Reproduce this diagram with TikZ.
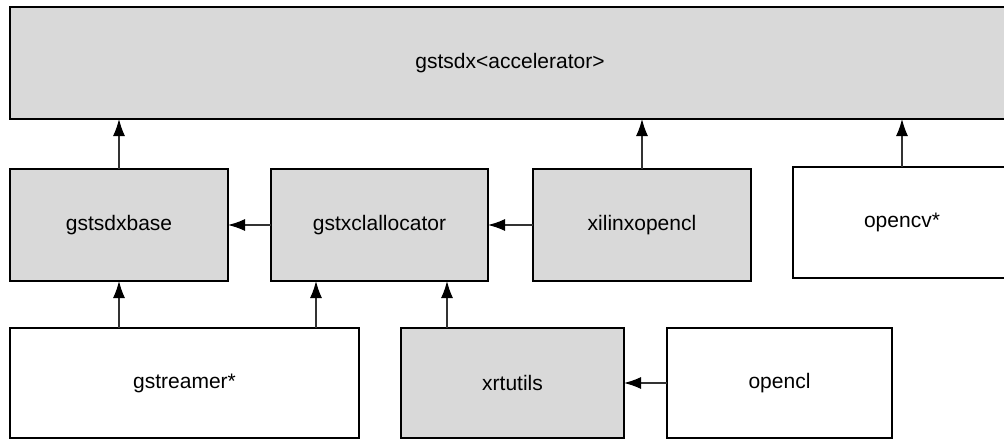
\documentclass[tikz,border=0pt]{standalone}
\usepackage{fontspec}
\setmainfont{Liberation Sans}
\usepackage{tikz}
\usetikzlibrary{arrows.meta}

\definecolor{boxGray}{RGB}{217,217,217}
\definecolor{lineColor}{RGB}{50,50,50}

\tikzset{
  pkg/.style={draw=black,line width=2.4pt,inner sep=0pt,outer sep=0pt,
    font=\fontsize{21}{25}\selectfont,text=black},
  internal/.style={pkg,fill=boxGray},
  external/.style={pkg,fill=white},
  dep/.style={draw=lineColor,line width=1.3pt,
    -{Latex[length=17pt,width=12pt,color=black]}}
}

\begin{document}
\begin{tikzpicture}[x=1pt,y=-1pt]
\useasboundingbox (0,0) rectangle (1004,439);
\begin{scope}
\clip (0,0) rectangle (1004,439);

% top level
\node[internal,minimum width=1000,minimum height=112] (accel) at (510,63) {gstsdx<accelerator>};

% middle row
\node[internal,minimum width=218,minimum height=112] (sdxbase) at (119,225) {gstsdxbase};
\node[internal,minimum width=217,minimum height=112] (xclalloc) at (379.5,225) {gstxclallocator};
\node[internal,minimum width=218,minimum height=112] (xilinx) at (642,225) {xilinxopencl};
\node[external,minimum width=218,minimum height=111] (opencv) at (902,222.5) {opencv*};

% bottom row
\node[external,minimum width=349,minimum height=110] (gstreamer) at (184.5,383) {gstreamer*};
\node[internal,minimum width=223,minimum height=110] (xrtutils) at (512.5,383) {xrtutils};
\node[external,minimum width=225,minimum height=110] (opencl) at (779.5,383) {opencl};

% dependencies
\draw[dep] (sdxbase.north) -- (sdxbase.north |- accel.south);
\draw[dep] (xilinx.north) -- (xilinx.north |- accel.south);
\draw[dep] (opencv.north) -- (opencv.north |- accel.south);

\draw[dep] (xclalloc.west) -- (sdxbase.east);
\draw[dep] (xilinx.west) -- (xclalloc.east);

\draw[dep] (gstreamer.north -| sdxbase.south) -- (sdxbase.south);
\draw[dep] ([xshift=-63.5]xclalloc.south |- gstreamer.north) coordinate (g2) -- (g2 |- xclalloc.south);
\draw[dep] ([xshift=-65.5]xrtutils.north) coordinate (x1) -- (x1 |- xclalloc.south);
\draw[dep] (opencl.west) -- (opencl.west -| xrtutils.east);
\end{scope}
\end{tikzpicture}
\end{document}
